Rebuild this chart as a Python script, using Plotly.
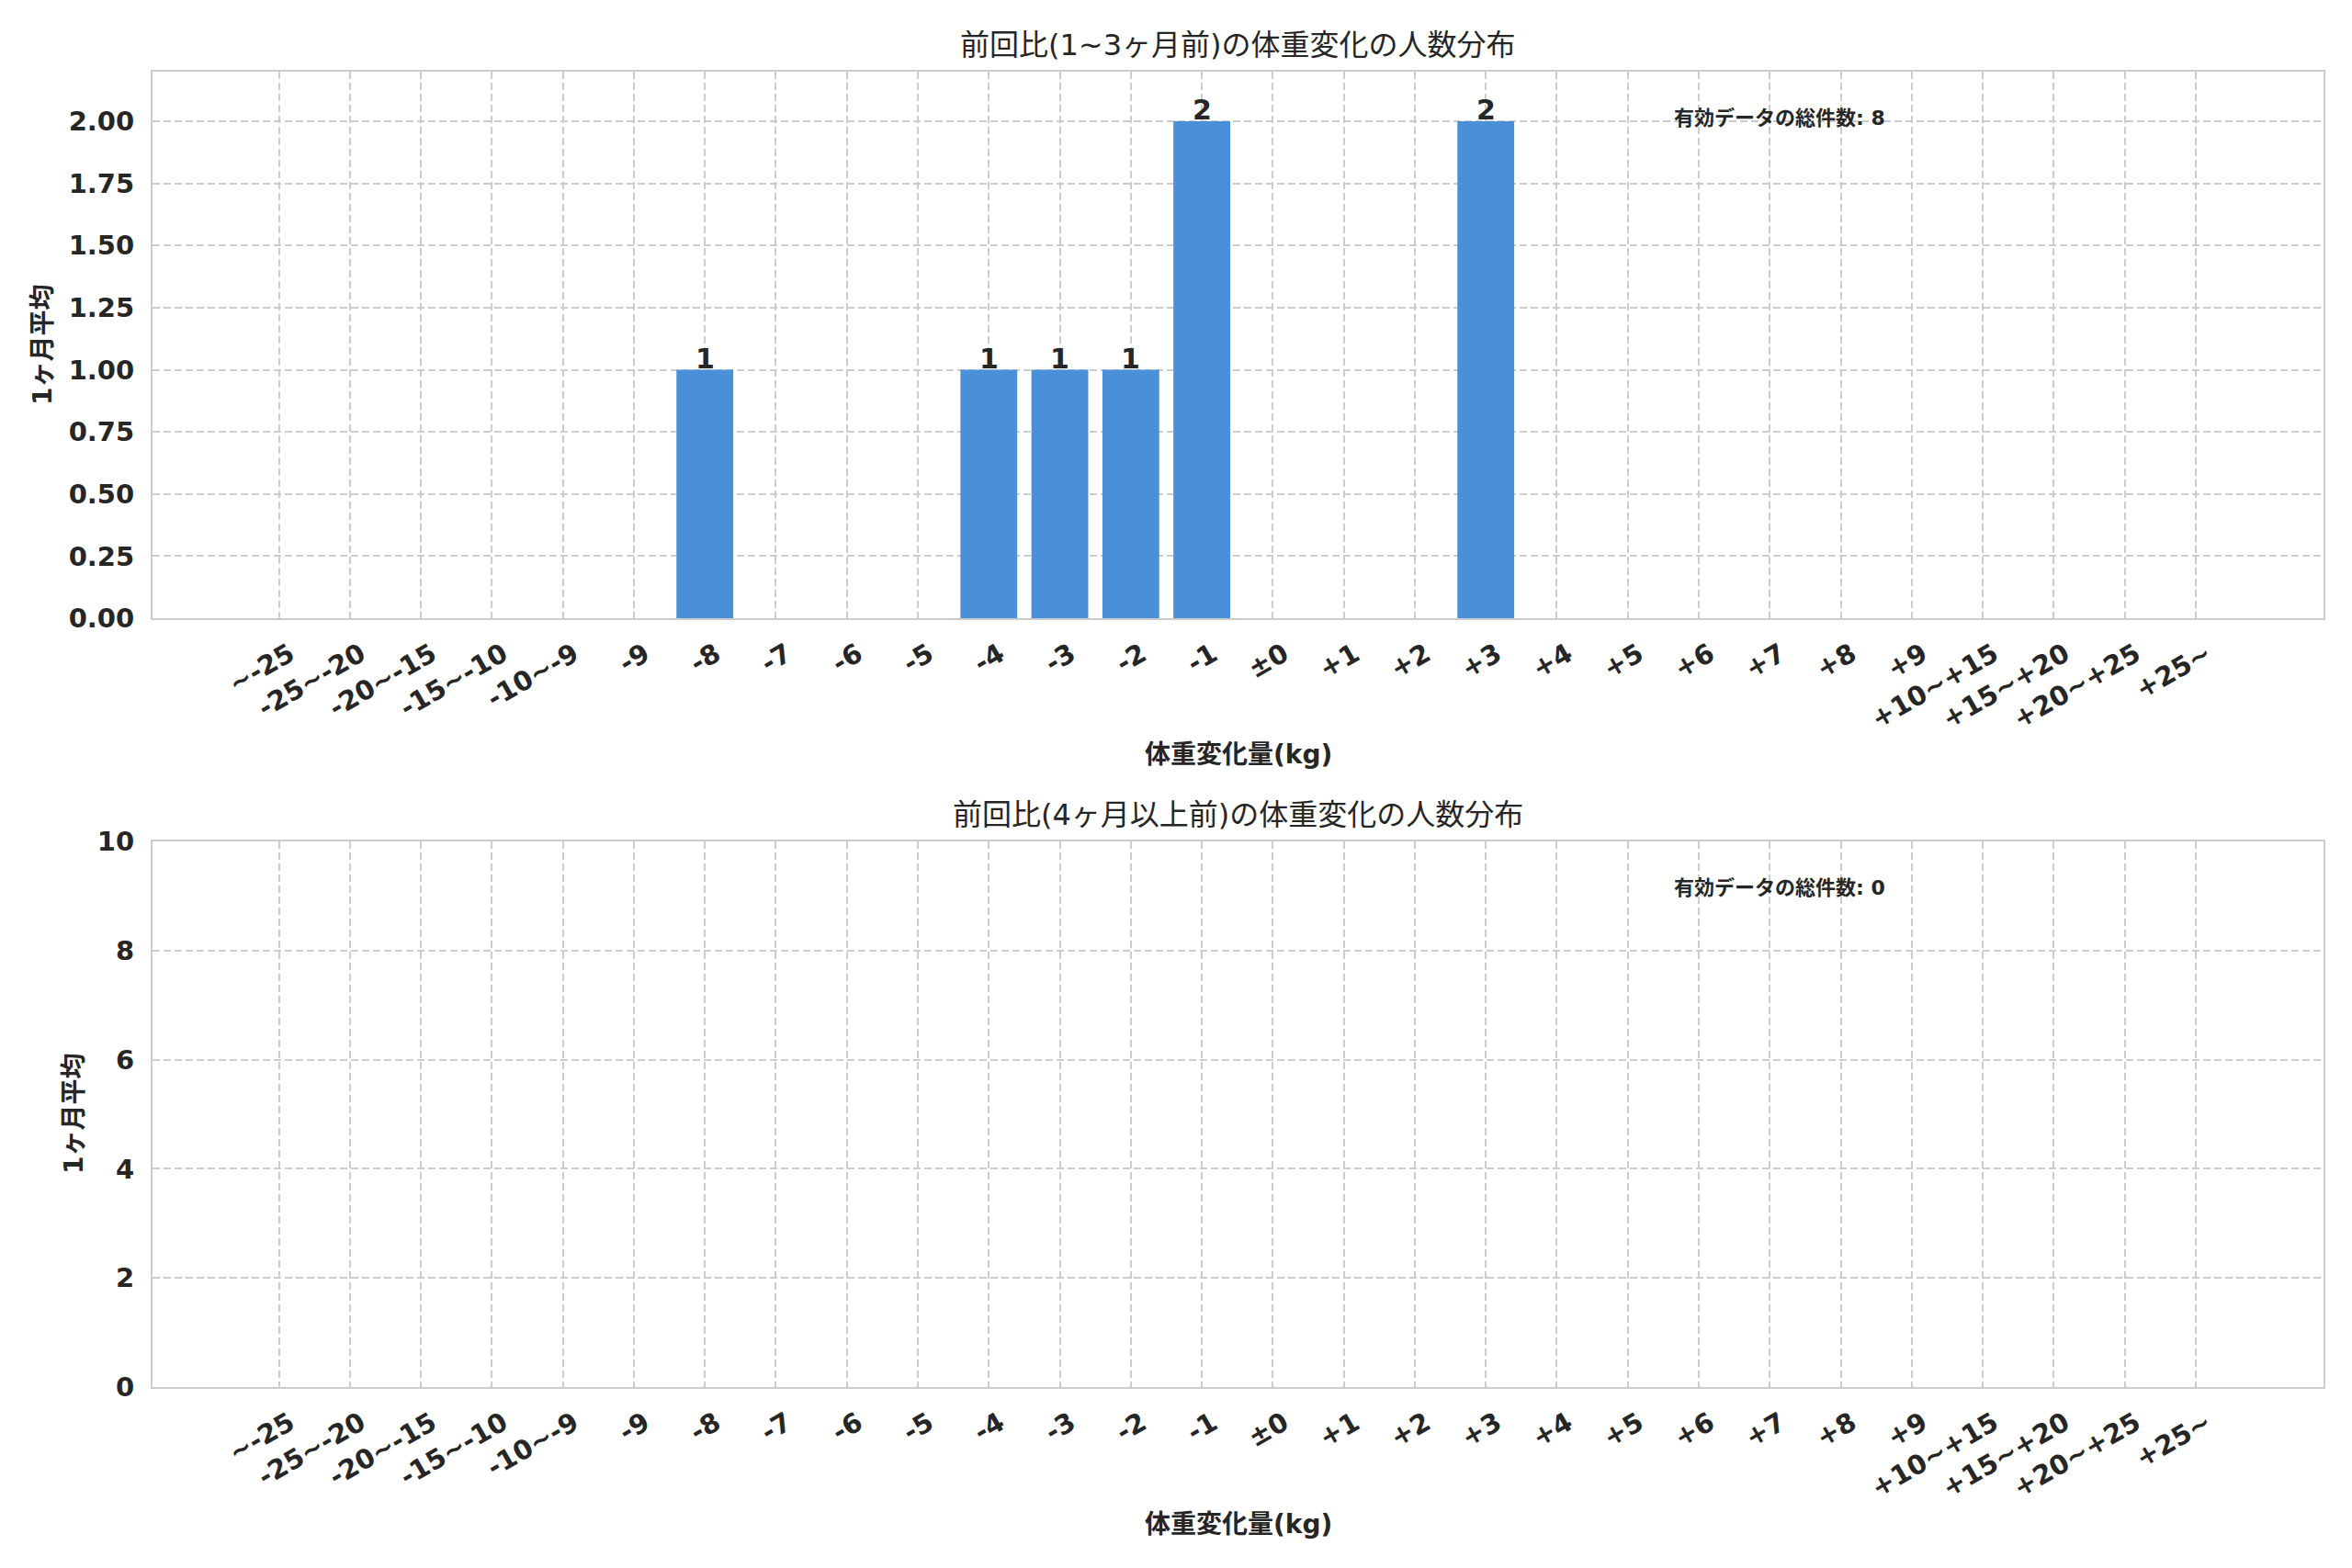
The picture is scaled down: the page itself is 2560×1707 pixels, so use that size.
import plotly.graph_objects as go

# 体重変化の区分
categories = ["~-25", "-25~-20", "-20~-15", "-15~-10", "-10~-9",
              "-9", "-8", "-7", "-6", "-5", "-4", "-3", "-2", "-1",
              "±0", "+1", "+2", "+3", "+4", "+5", "+6", "+7", "+8", "+9",
              "+10~+15", "+15~+20", "+20~+25", "+25~"]

# 1~3ヶ月前
counts_short = [0, 0, 0, 0, 0, 0, 1, 0, 0, 0, 1, 1, 1, 2,
                0, 0, 0, 2, 0, 0, 0, 0, 0, 0, 0, 0, 0, 0]
# 4ヶ月以上前
counts_long = [0] * len(categories)

total_short = sum(counts_short)
total_long = sum(counts_long)

title_short = "前回比(1~3ヶ月前)の体重変化の人数分布"
title_long = "前回比(4ヶ月以上前)の体重変化の人数分布"
x_label = "体重変化量(kg)"
y_label = "1ヶ月平均"
count_label = "有効データの総件数"

W, H = 2560, 1707
BAR = "#4a90d9"
TXT = "#262626"
GRID = "#cccccc"
FONT = "DejaVu Sans, Noto Sans CJK JP, sans-serif"


def px_x(v):
    return v / W


def px_y(v):
    return 1 - v / H


fig = go.Figure()

fig.add_trace(go.Bar(
    x=categories, y=counts_short, width=0.8,
    marker=dict(color=BAR, line=dict(width=0)),
    xaxis="x", yaxis="y", showlegend=False,
))
fig.add_trace(go.Bar(
    x=categories, y=counts_long, width=0.8,
    marker=dict(color=BAR, line=dict(width=0)),
    xaxis="x2", yaxis="y2", showlegend=False,
))

tickfont = dict(family=FONT, size=29, color=TXT, weight="bold")
xcommon = dict(
    type="category", categoryorder="array", categoryarray=categories,
    range=[-1.78, 28.8], tickangle=-30, tickfont=tickfont,
    showgrid=True, gridcolor=GRID, gridwidth=1.6, griddash="8px,4px",
    showline=True, mirror=True, linecolor=GRID, linewidth=2,
    ticks="", ticklabelstandoff=9, ticklabelshift=12,
    zeroline=False, automargin=False,
)
ycommon = dict(
    tickfont=tickfont,
    showgrid=True, gridcolor=GRID, gridwidth=1.6, griddash="8px,4px",
    showline=True, mirror=True, linecolor=GRID, linewidth=2,
    ticks="", ticklabelstandoff=12, zeroline=False, automargin=False,
)

dom_x = [px_x(166), px_x(2529)]
fig.update_layout(
    xaxis=dict(xcommon, domain=dom_x, anchor="y"),
    yaxis=dict(ycommon, domain=[px_y(673), px_y(78)], anchor="x",
               range=[0, 2.2], tickvals=[0, 0.25, 0.5, 0.75, 1.0, 1.25, 1.5, 1.75, 2.0],
               tickformat=".2f"),
    xaxis2=dict(xcommon, domain=dom_x, anchor="y2"),
    yaxis2=dict(ycommon, domain=[px_y(1510), px_y(916)], anchor="x2",
                range=[0, 10], dtick=2),
)

ann = []
cx = (px_x(166) + px_x(2529)) / 2
for title, ty, xl_y, yl_x, yl_y in [
    (title_short, 49, 821, 47, 376),
    (title_long, 887, 1659, 80, 1213),
]:
    ann.append(dict(text=title, x=cx, y=px_y(ty), xref="paper", yref="paper",
                    showarrow=False, xanchor="center", yanchor="middle",
                    font=dict(family=FONT, size=32, color=TXT)))
    ann.append(dict(text=x_label, x=cx, y=px_y(xl_y), xref="paper", yref="paper",
                    showarrow=False, xanchor="center", yanchor="middle",
                    font=dict(family=FONT, size=28, color=TXT, weight="bold")))
    ann.append(dict(text=y_label, x=px_x(yl_x), y=px_y(yl_y), xref="paper", yref="paper",
                    showarrow=False, xanchor="center", yanchor="middle", textangle=-90,
                    font=dict(family=FONT, size=28, color=TXT, weight="bold")))

for xr, yr, tot in [("x domain", "y domain", total_short), ("x2 domain", "y2 domain", total_long)]:
    ann.append(dict(text=f"{count_label}: {tot}", x=0.70, y=0.915, xref=xr, yref=yr,
                    showarrow=False, xanchor="left", yanchor="middle",
                    font=dict(family=FONT, size=22, color=TXT, weight="bold")))

# 棒の上の件数ラベル (カテゴリ軸なので位置は番号で指定)
for i, c in enumerate(counts_short):
    if c > 0:
        ann.append(dict(text=str(c), x=i, y=c, xref="x", yref="y",
                        showarrow=False, xanchor="center", yanchor="bottom", yshift=-7,
                        font=dict(family=FONT, size=30, color=TXT, weight="bold")))

fig.update_layout(
    template="none",
    annotations=ann,
    width=W, height=H,
    margin=dict(l=0, r=0, t=0, b=0, autoexpand=False),
    paper_bgcolor="white", plot_bgcolor="white",
    bargap=0.2,
)

# ページ余白をなくして図を左上に合わせる
fig.write_html("out.html", config={"displayModeBar": False},
               post_script="document.body.style.margin='0';")
